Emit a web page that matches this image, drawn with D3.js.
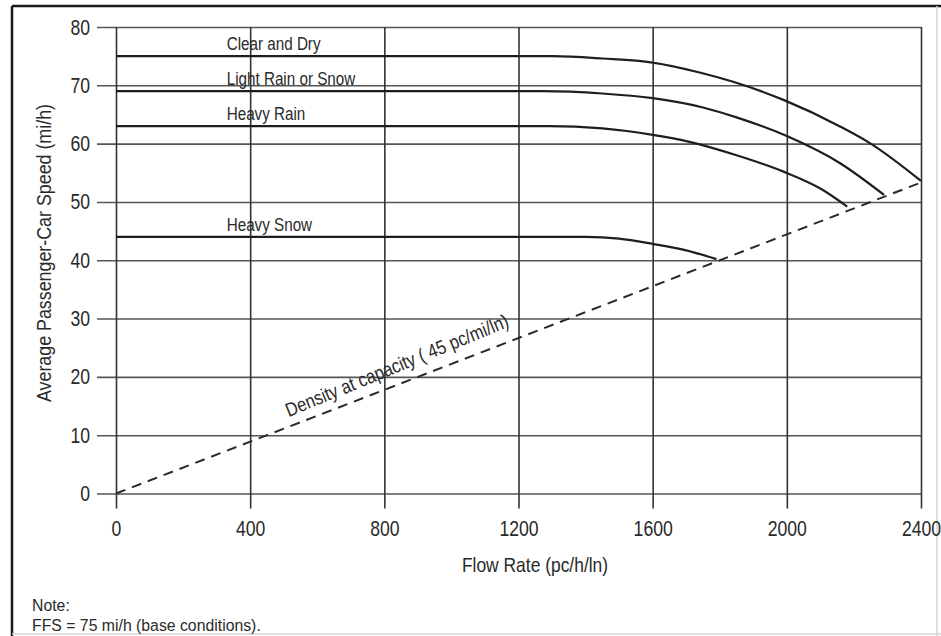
<!DOCTYPE html>
<html>
<head>
<meta charset="utf-8">
<script src="https://cdn.jsdelivr.net/npm/d3@7"></script>
<style>
  body { margin: 0; background: #fff; }
  svg text { font-family: "Liberation Sans", Arial, Helvetica, sans-serif; fill: #2a2a2a; }
</style>
</head>
<body>
<svg id="chart" width="941" height="636"></svg>
<script>
// Axis ticks
const xTicks = [0, 400, 800, 1200, 1600, 2000, 2400];
const yTicks = [0, 10, 20, 30, 40, 50, 60, 70, 80];

// Speed-flow curves by weather condition (flow pc/h/ln, speed mi/h)
const seriesNames = ["Clear and Dry", "Light Rain or Snow", "Heavy Rain", "Heavy Snow"];
const clearDryFlow  = [0, 1300, 1450, 1600, 1740, 1840, 1990, 2160, 2250, 2400];
const clearDrySpeed = [75, 75, 74.6, 73.9, 72.2, 70.6, 67.5, 62.9, 60.0, 53.6];
const lightRainFlow  = [0, 1270, 1450, 1600, 1750, 1850, 2000, 2160, 2290];
const lightRainSpeed = [69, 69, 68.6, 67.8, 66.2, 64.5, 61.3, 56.6, 51.2];
const heavyRainFlow  = [0, 1290, 1450, 1600, 1710, 1850, 1990, 2100, 2180];
const heavyRainSpeed = [63, 63, 62.6, 61.5, 60.3, 58.0, 55.2, 52.3, 49.2];
const heavySnowFlow  = [0, 1400, 1500, 1600, 1700, 1790];
const heavySnowSpeed = [44, 44, 43.7, 42.8, 41.7, 40.2];

// Density at capacity line
const capacityDensity = 45;           // pc/mi/ln
const capacityFlow = [0, 2400];

const svg = d3.select("#chart");
const W = 941, H = 636;

// Narrow-style text: regular sans squeezed horizontally
function addText(x, y, str, size, sx, rot = 0, anchor = "start") {
  return svg.append("text")
    .attr("transform", `translate(${x},${y}) rotate(${rot}) scale(${sx},1)`)
    .attr("font-size", size)
    .attr("text-anchor", anchor)
    .text(str);
}

// Page frame
svg.append("line").attr("x1", 12).attr("y1", 6).attr("x2", W).attr("y2", 6)
  .attr("stroke", "#1a1a1a").attr("stroke-width", 2.5);
svg.append("line").attr("x1", 12).attr("y1", 6).attr("x2", 12).attr("y2", H)
  .attr("stroke", "#1a1a1a").attr("stroke-width", 2.5);
svg.append("line").attr("x1", 937).attr("y1", 6).attr("x2", 937).attr("y2", H)
  .attr("stroke", "#d4d4d4").attr("stroke-width", 1.5);
svg.append("line").attr("x1", 12).attr("y1", 634).attr("x2", W).attr("y2", 634)
  .attr("stroke", "#d4d4d4").attr("stroke-width", 1.5);

const x = d3.scaleLinear().domain([0, 2400]).range([116, 921]);
const y = d3.scaleLinear().domain([0, 80]).range([493.5, 27]);

const tickOut = 19;
const tickSx = 0.8;

// Horizontal grid + y tick labels
const yAxis = d3.axisLeft(y).tickValues(yTicks).tickFormat(d3.format("d"))
  .tickSize(-(x.range()[1] - x.range()[0] + tickOut)).tickPadding(7);
const gy = svg.append("g").attr("transform", `translate(${x.range()[0] - tickOut},0)`).call(yAxis);
gy.select(".domain").remove();
gy.selectAll(".tick line").attr("stroke", "#555").attr("stroke-width", 1.6);
gy.selectAll(".tick text").attr("font-size", 22).attr("fill", "#2a2a2a")
  .attr("x", -7 / tickSx).attr("transform", `scale(${tickSx},1)`);

// Vertical grid + x tick labels
const xAxis = d3.axisBottom(x).tickValues(xTicks).tickFormat(d3.format("d"))
  .tickSize(-(y.range()[0] - y.range()[1] + 15)).tickPadding(12);
const gx = svg.append("g").attr("transform", `translate(0,${y.range()[0] + 15})`).call(xAxis);
gx.select(".domain").remove();
gx.selectAll(".tick line").attr("stroke", "#333").attr("stroke-width", 1.6);
gx.selectAll(".tick text").attr("font-size", 22).attr("fill", "#2a2a2a")
  .attr("transform", `scale(${tickSx},1)`);

// Speed-flow curves
const line = d3.line().x(d => x(d[0])).y(d => y(d[1])).curve(d3.curveMonotoneX);
const series = [
  [clearDryFlow, clearDrySpeed],
  [lightRainFlow, lightRainSpeed],
  [heavyRainFlow, heavyRainSpeed],
  [heavySnowFlow, heavySnowSpeed]
];
series.forEach(([fl, sp], i) => {
  const pts = fl.map((f, j) => [f, sp[j]]);
  svg.append("path").attr("d", line(pts))
    .attr("fill", "none").attr("stroke", "#1e1e1e").attr("stroke-width", 2.2)
    .attr("stroke-linejoin", "round");
  addText(x(330), y(sp[0]) - 6, seriesNames[i], 17.5, 0.87);
});

// Density at capacity (speed = flow / density)
const capPts = capacityFlow.map(f => [f, f / capacityDensity]);
svg.append("path").attr("d", d3.line().x(d => x(d[0])).y(d => y(d[1]))(capPts))
  .attr("fill", "none").attr("stroke", "#2a2a2a").attr("stroke-width", 2)
  .attr("stroke-dasharray", "10,7");

const angle = Math.atan2(y(capPts[1][1]) - y(0), x(capPts[1][0]) - x(0)) * 180 / Math.PI;
const labelFlow = 525;
svg.append("text")
  .attr("transform", `translate(${x(labelFlow)},${y(labelFlow / capacityDensity)}) rotate(${angle - 1.2}) translate(0,-9) scale(0.85,1)`)
  .attr("font-size", 19.5)
  .text("Density at capacity ( 45 pc/mi/ln)");

// Axis titles
addText(535, 572, "Flow Rate (pc/h/ln)", 20.5, 0.85, 0, "middle");
addText(51, 253, "Average Passenger-Car Speed (mi/h)", 21, 0.85, -90, "middle");

// Note
addText(32, 611, "Note:", 17, 0.93);
addText(32, 631, "FFS = 75 mi/h (base conditions).", 17, 0.93);
</script>
</body>
</html>
